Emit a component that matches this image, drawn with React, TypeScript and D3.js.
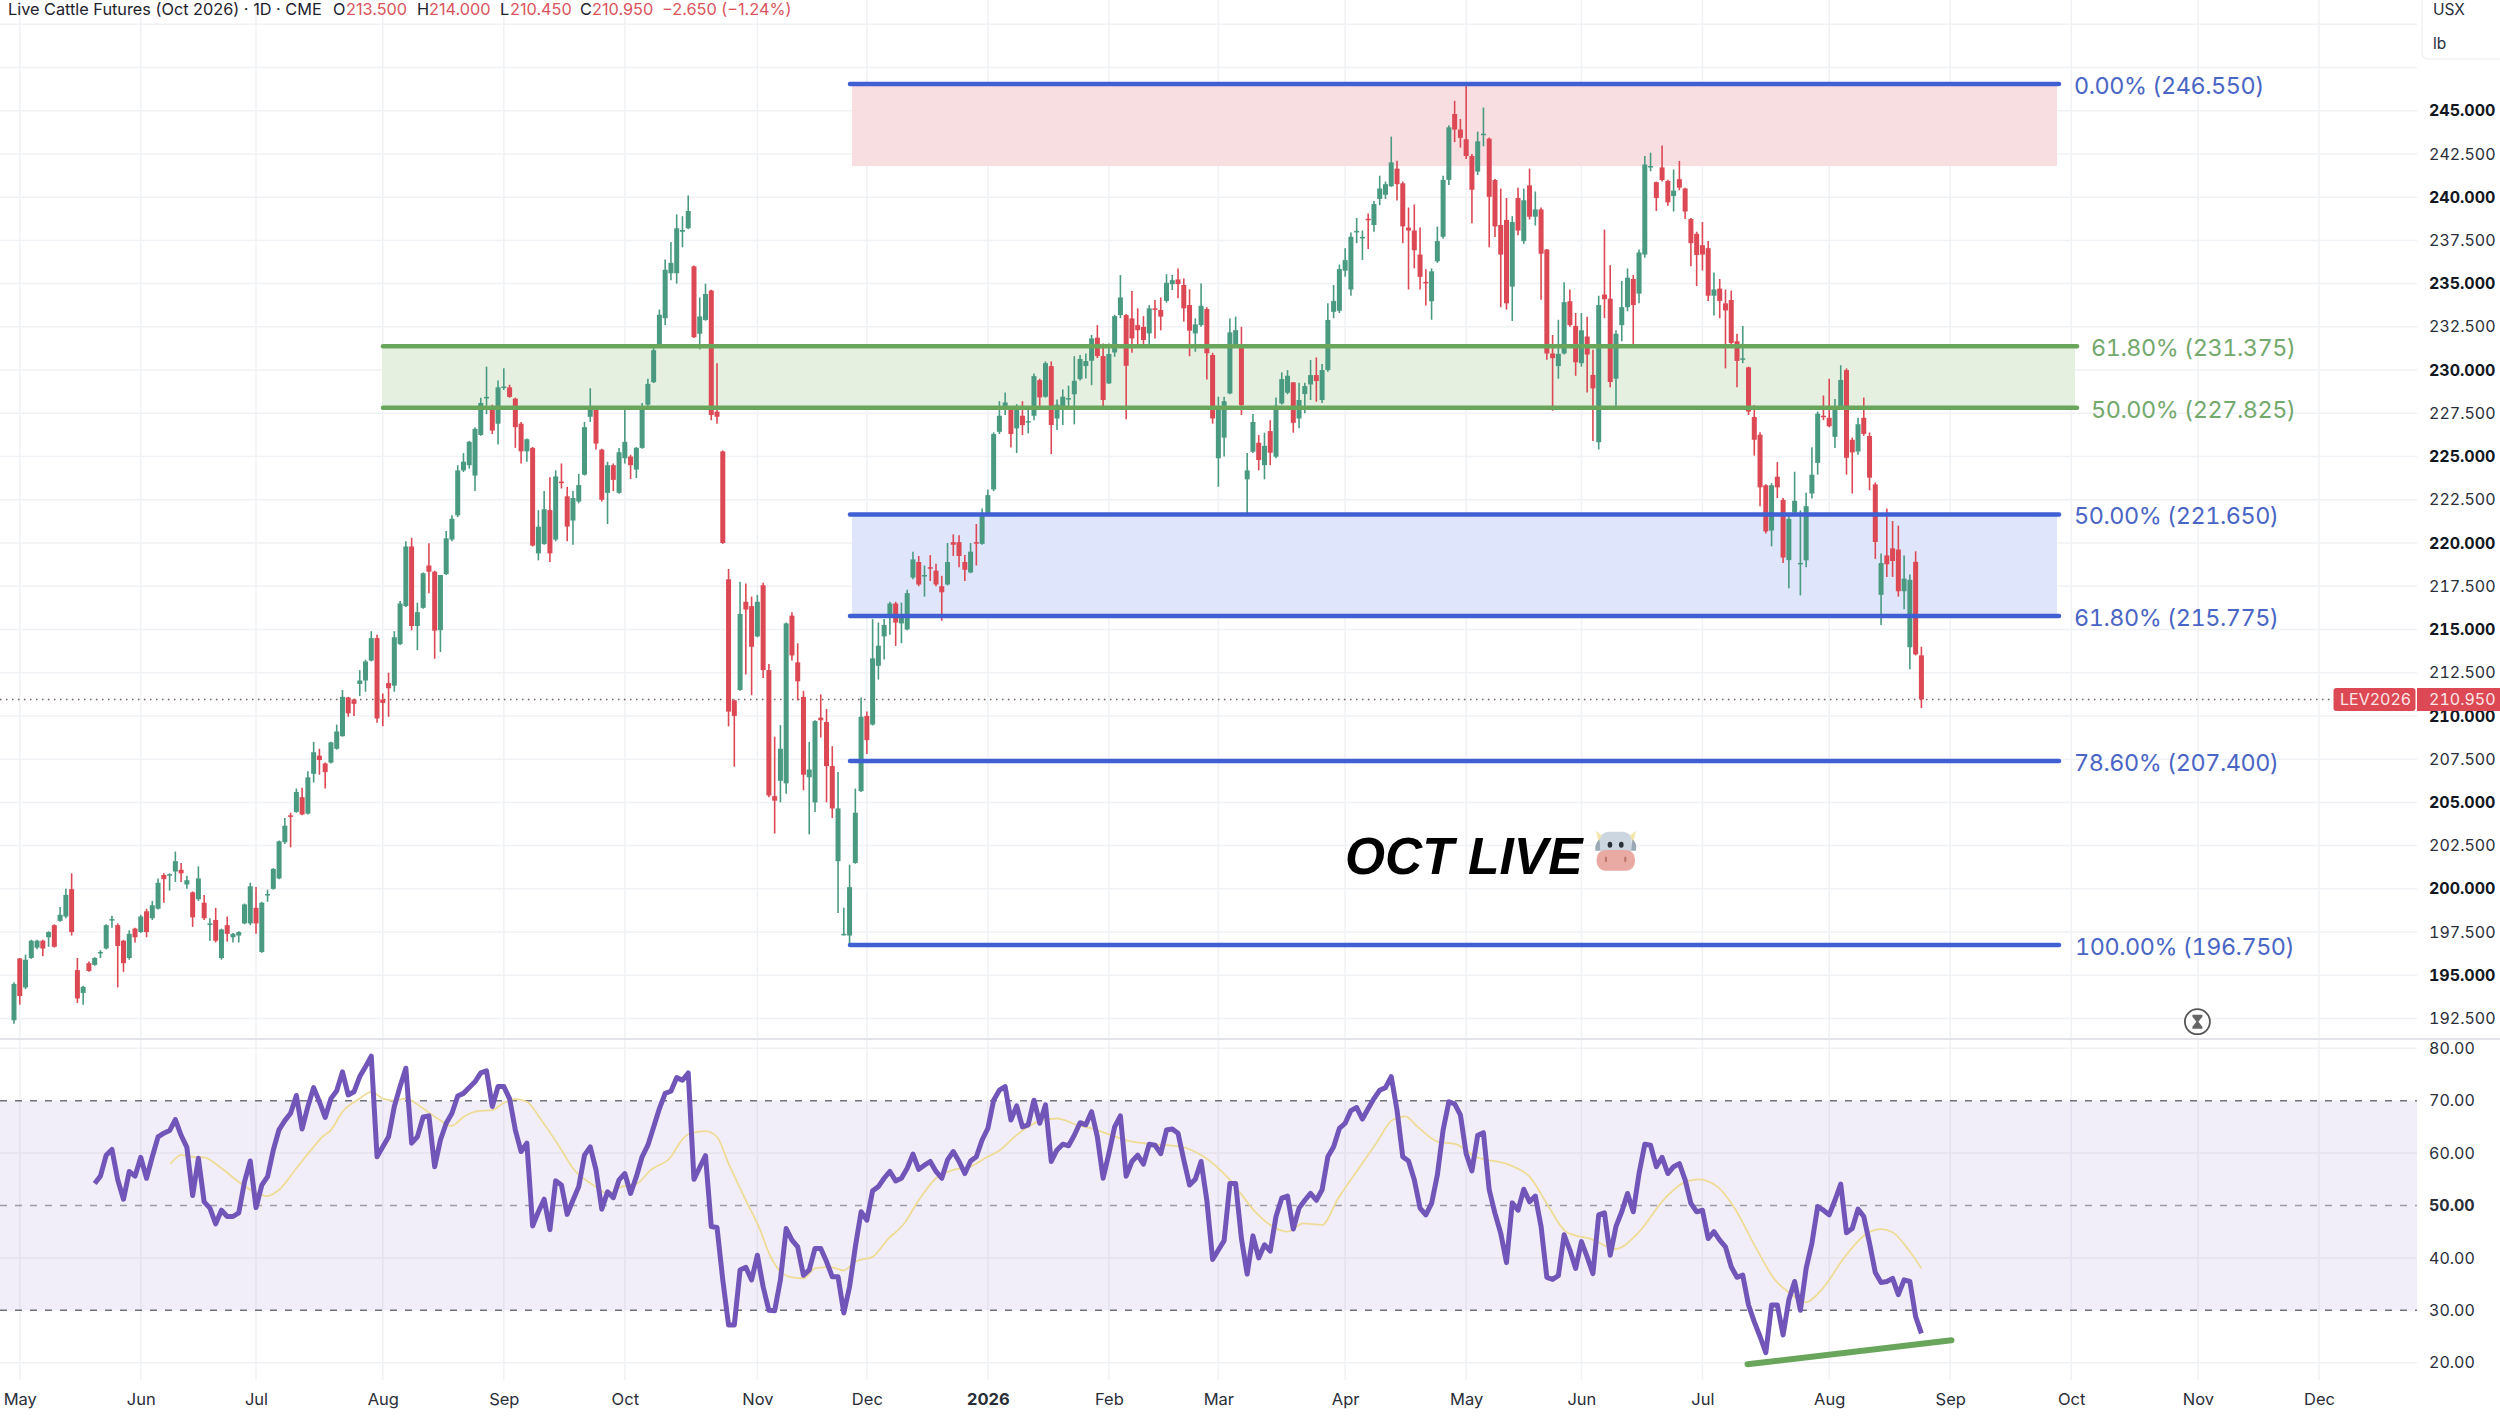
import { useEffect, useRef } from "react";
import * as d3 from "d3";

const opens = [
  192.4,195.97,194.3,196,196.6,197,197.2,197.9,198.15,198.4,
  199.98,195.3,193.98,195.7,195.6,196.3,196.55,198.2,197.9,197,
  196,197.7,197.5,198.7,198.3,198.85,200.8,200.8,201,201.1,
  200.25,199.8,199.4,199.2,197.95,198.2,196,197.9,197.2,197.3,
  198,198,198.9,196.35,199.65,200,200.6,202.7,204.25,204.45,
  205.3,204.35,206.65,207.7,207.25,207.3,208.1,208.83,211.07,210.95,
  211.85,212.05,213.2,214.5,210.95,211.9,211.75,214.15,216.35,219.8,
  215.2,216.25,218.7,218.34,214.96,218.2,220.2,221.6,224.2,224.5,
  223.9,226.25,228.4,227.9,226.9,229,229,228.35,226.9,225.3,
  225.5,219.4,219.94,221.9,220.2,223.55,222.7,221.3,222.4,223.95,
  227.3,227.85,225.4,222.9,224.5,222.9,224.9,225,224.25,225.5,
  228,229.3,231.45,233,235.6,235.6,238,238.2,236,232.1,
  232.9,234.6,227.6,225.3,217.9,210.9,211.5,216.6,216.35,214.6,
  217.56,212.65,205.36,206.25,206.1,215.8,213.1,211.1,206.45,205,
  209.9,209.65,207.1,201.6,197.35,197.3,201.5,205.65,210,209.5,
  212.9,214.6,215.7,216.5,215.35,215,218,218.9,218.1,218.6,
  218.4,217.5,217.6,220.05,220.05,218.9,218.3,220.05,219.95,221.7,
  223.1,226.43,227.88,227.73,226.63,227.36,227,227.36,229.42,228.46,
  230.23,227.2,227.7,228.33,228.6,229.48,230.23,230.54,231.87,230.81,
  229.23,231.02,233.18,233.18,232.99,232.6,232.5,232.12,233.57,233.47,
  234,234.97,235.24,234.92,233.76,232.12,232.6,233.53,230.87,224.9,
  226.09,228.65,231.35,231.48,223.68,225.28,225.8,224.5,226.47,224.99,
  228.07,228.69,229.29,227.2,228.61,229.17,229.71,228.27,230,233.37,
  233.43,235.75,234.66,238,237.65,238.75,238.39,239.9,240.14,240.63,
  241.65,240.8,238.24,238.07,236.68,235.1,233.98,236.29,237.71,241,
  244.81,243.91,243.35,242.38,241.48,243.62,243.38,240.99,238.39,238.68,
  234.83,239.95,237.46,240.68,238.87,239.29,236.97,230.96,230.23,230.96,
  233.98,232.55,230.4,231.94,229.72,225.83,234.37,234.13,229.5,232.6,
  233.64,235.27,234.42,236.68,241.75,240.87,241.72,240.94,240.07,241.04,
  240.5,238.73,237.88,237.22,237.05,234.3,234.71,233.86,234.05,231.67,
  230.63,230.16,227.29,226.26,223.34,220.72,223.83,222.49,219.01,221.76,
  218.8,219,222.86,224.63,227.36,227.24,226.14,227.85,230,225.97,
  225.29,227.24,226.19,223.39,217,219.28,219.69,219.62,217.21,213.97,
  218.91,213.5,
];

const highs = [
  194.6,196,196.2,197.05,197.05,197.05,197.55,197.95,198.95,200,
  200.9,196,194.4,195.8,196.05,196.45,197.95,198.45,198,197.05,
  197.6,197.75,198.5,198.85,199.3,200.6,200.9,200.9,202.15,201.5,
  200.75,199.85,201.3,199.65,198.3,198.9,197.7,198.4,197.45,197.55,
  199.15,200.35,200.1,199.25,199.95,201.2,202.8,204.1,204.4,205.8,
  205.85,206.8,208.5,208.1,207.3,208.5,209.5,211.5,211.1,211,
  212.65,213.25,214.9,214.7,211.3,212.5,214.9,216.65,220.1,220.3,
  216.55,218.3,219.98,218.4,218.15,220.7,221.6,224.5,225.2,225.9,
  226.7,228.4,230.2,228,229.4,230.1,229.15,228.4,227,226.05,
  225.55,221.9,223,223.8,224.2,224.6,223.25,223,224,227,
  228.95,227.9,225.45,224.7,224.6,225.5,227.9,225.1,225.55,228.1,
  229.5,231.3,233.5,236.4,237.4,239,238.9,240.1,236.05,234.2,
  235,234.65,230.4,225.35,218.5,210.95,217.76,217.66,216.9,217,
  217.7,213,208.8,209.47,215.4,216,214.2,211.45,208.5,209.75,
  211.25,210.4,208.25,206.75,198.9,201.4,205.8,211.07,210.25,215.6,
  215.4,215.6,216.6,216.6,216.55,217.3,219.5,219.25,218.7,219.3,
  218.8,218.1,220,220.5,220.45,219.3,220,221.1,222,223.1,
  226.4,228.2,228.7,227.75,228.03,228.2,227.88,229.8,229.5,230.5,
  230.5,228.3,228.88,229.1,230.8,230.87,230.96,232.03,232.6,231.54,
  231.54,233.2,235.5,233.25,234.57,233.57,233.12,233.76,234.05,234.2,
  235.55,235.5,235.88,235.3,234.67,232.99,235,233.63,231,228.46,
  228.46,232.99,233.09,232.5,225.2,227.46,226.24,226.38,227.1,228.42,
  229.87,230,229.3,229.27,229.27,230.58,230.73,230.35,233.86,234.92,
  236.1,237.04,237.95,238.8,238.07,239.05,239.78,241.24,240.9,243.5,
  242.1,240.9,239.4,239.58,238.24,235.83,235.88,238.3,241.24,244.16,
  245.57,244.52,246.55,242.5,243.79,245.18,243.45,241.05,240.5,239.95,
  238.9,240.55,240.5,241.65,240.33,239.4,237,232.03,232.91,235.08,
  234.66,233.3,233.3,233.08,231.18,234.3,238.12,236.07,232.3,235.15,
  235.88,235.5,236.97,242.38,242.57,240.9,242.99,241,241.6,242.09,
  240.55,238.8,238,238.56,237.46,235.64,235.27,234.66,234.6,232.1,
  232.55,230.2,227.97,226.4,223.4,223.46,224.68,222.6,221.6,224.12,
  221.88,222.9,225.54,227.6,228.53,229.5,228.33,230.28,230.1,226.1,
  227.24,228.41,226.39,223.5,219.4,222,221.27,221,219.28,218.18,
  219.52,214,
];

const lows = [
  192.2,193.3,194.2,195.95,196.5,196.1,196.65,196.6,198.1,198.3,
  197.3,193.4,193.3,195.2,195.55,196,196.5,197.75,194.3,195.2,
  195.9,196.9,197.45,197.2,198.2,198.8,199.2,199.9,200.4,200.4,
  200,197.8,199.3,198.2,197,196.9,195.9,196.95,196.9,196.9,
  197.95,197.9,197.4,196.3,199.25,199.95,200.55,202.6,202.4,204.4,
  204.25,204.3,206.15,206.6,205.8,207.25,208.05,208.8,209.95,210,
  211.15,211.4,213.15,209.6,209.4,209.95,211.4,214.1,216.3,214.95,
  213.8,216.2,217.1,213.3,213.7,218.15,220.1,221.5,224.1,224.3,
  223,226.2,227.45,226.3,225.7,228.85,228.4,225.5,224.6,224.7,
  219.8,219,219.9,218.9,220.1,223.15,220.1,219.9,222.3,223.9,
  227,225.4,222.4,221.1,223,222.85,224.6,223.7,223.75,225.45,
  227.9,229.25,231.4,232.6,235.2,235,237.1,238.15,231.85,231.2,
  232.85,227.1,226.9,219.95,209.4,207.06,211.45,212.4,211.2,214.55,
  212.2,205.3,203.2,205,205.5,213.2,210.9,205.7,203.15,204.45,
  208.75,205,204.1,198.6,197.3,196.75,201.45,205.6,207.8,209.45,
  212.1,213.27,214.7,214.05,214.2,214.95,217.9,217.5,216.9,217.8,
  217.5,215.5,217.55,219.25,218.6,217.8,218.25,218.7,219.9,221.65,
  223,226.3,227.4,225.53,225.2,226.24,226.34,227.1,227.7,228.4,
  225.14,226.53,226.82,227.88,226.86,229.4,229.52,229.13,230.7,227.88,
  229.2,230.77,233,227.15,231,231.35,231.35,231.5,231.83,232.3,
  233.9,234.63,234.15,232.8,230.8,231.06,232.5,229.46,226.9,223.25,
  225,228.6,231.3,227.4,221.7,225.2,224.2,223.68,224.5,224.9,
  228,228.6,226.38,226.63,227.5,228.27,228.17,228.1,229.9,233,
  233.3,235.4,234.3,237.34,236.37,237,238,239.53,239.9,240.6,
  239.8,237.34,234.66,235.88,234.66,233.74,232.91,236.2,237.6,240.7,
  243.18,242.87,242.2,238.49,241.28,242.94,237.1,237.7,233.64,233.5,
  232.84,237.8,237.3,238.7,238.36,234.06,230.6,227.65,229.5,230.9,
  232.5,229.67,230.2,228.7,225.9,225.41,233,229,227.85,231.67,
  233.4,231.5,233.86,236.5,241.5,239.2,240.9,239.5,239.17,240.4,
  238.73,236,234.86,235.76,234,233.15,233,230.1,231.5,229,
  230.4,227.4,225.05,222.13,220.55,219.81,222.6,218.84,217.38,221.7,
  216.97,218.6,222.57,223.95,227.1,226.7,225.5,227.8,223.95,222.86,
  225.1,226.2,223.05,219.08,215.26,218.04,218.04,216.9,216.17,212.7,
  213.5,210.45,
];

const closes = [
  194.5,193.8,195.9,197,197,196.55,197.5,196.65,198.5,199.65,
  197.5,193.66,194.33,195.25,196,196.35,197.9,198.25,196.7,195.7,
  197.4,197.2,198.4,197.5,199.05,200.35,200.56,200.85,201.6,200.9,
  200.5,198.35,200.6,198.3,198,197,197.65,197.4,197.4,197.5,
  199.1,200.15,198,199.2,199.7,201.15,202.75,203.65,204.2,205.6,
  204.3,206.45,207.9,207.45,206.75,208.47,209.1,211.1,210.15,210.7,
  212.05,213.15,214.5,209.85,210.75,211.6,214.55,216.5,219.8,215.2,
  216,218.25,218.34,214.93,218.15,220.27,221.4,224.2,224.7,225.85,
  226.6,228.1,228.45,226.5,229,229.05,228.45,226.7,225.3,226,
  219.85,220.94,221.95,219.4,223.85,223.5,220.95,222.6,223.35,226.7,
  227.8,225.75,222.5,224.5,223.65,225.25,225.85,224.5,225.5,227.9,
  229.2,231.15,233.2,235.8,236.2,238.2,238.1,239.2,231.9,233.1,
  234.4,227.4,227.3,220,210.25,210,215.9,216.15,214,216.6,
  212.65,205.4,205.1,208.1,215.35,213.5,212,206.6,206.9,209.7,
  209.75,207.1,204.65,204.65,197.4,200.1,204.4,209.95,208.6,213.33,
  214.06,215.26,216.5,215.4,215.7,217.1,219.05,217.6,218.15,218.55,
  217.6,217.15,218.9,219.9,219.25,218.45,219.5,220,221.7,222.77,
  226.3,227.36,228.13,226.3,227.88,226.82,227.05,229.65,228.42,230.4,
  226.82,228,228.46,228.38,229.38,230.64,230.52,231.83,230.81,228.27,
  230.93,233.12,234.2,230.25,231.83,232.31,231.74,233.57,233.55,233.09,
  235.05,235.2,234.97,233.57,232.28,232.64,233.72,230.97,227.2,227.78,
  228.2,232.18,232.31,227.98,224.2,227,224.8,225.62,225.22,227.94,
  229.48,229.67,226.95,228.27,229.08,229.71,229.37,230,232.9,234,
  235.84,236.36,237.71,238.05,237.7,238.7,239.6,240.5,240.75,242.01,
  240.75,238.31,238.07,236.93,235.39,235.05,235.71,237.46,241,244.04,
  243.91,243.43,242.38,240.43,243.23,243.67,240.02,238.31,236.68,233.86,
  238.56,238.07,239.82,238.87,239.29,236.73,230.96,230.69,230.94,233.93,
  232.6,230.45,232.3,230.9,228.94,233.76,234.1,229.31,232.1,233.64,
  235.34,233.76,236.8,241.89,241.8,239.95,240.99,239.7,240.38,240.55,
  239.17,237.34,236.66,236.68,234.3,234.66,234,233.45,231.57,230.53,
  230.68,227.6,225.97,223.22,220.67,223.34,223.22,219.16,221.4,222.44,
  218.85,222.13,223.95,227.48,227.3,226.75,227.85,229.43,224.93,225.24,
  226.87,226.31,223.78,220.06,218.84,218.77,218.96,217.21,217.94,217.87,
  213.56,210.95,
];

// RSI starts at bar 14
const rsiStart = 14;
const rsi = [
  54.2,55.6,59.6,60.7,54.9,51.2,
  56.5,55.6,59.2,55.2,59.3,63.1,63.8,64.3,66.4,63.4,
  61.1,51.9,59,50.7,49.5,46.5,49.1,47.9,47.9,48.6,
  54.5,58.5,49.6,53.9,55.5,60.6,64.5,66.2,67.6,71,
  64.6,68.9,72.5,69.8,66.8,70.4,71.9,75.5,71.1,71.7,
  74.6,76.5,78.5,59.3,61.2,63.1,68.9,72.7,76.2,61.9,
  63.1,66.9,67.1,57.4,62.5,65.7,67.6,70.9,71.4,72.5,
  73.6,75.3,75.7,68.9,72.7,72.7,70.4,64.4,60.3,61.9,
  46.1,48.8,51.2,45.4,54.7,53.9,48.3,51,53.6,59.6,
  61.2,56.8,49.3,52.6,51.5,54.9,56.1,52.3,55.5,59.3,
  61.5,65,68.5,71.4,71.8,74.4,73.9,75.3,55,57.3,
  59.5,46,45.8,35.8,27.2,27.2,37.7,38.2,35.8,40.5,
  34.5,30,29.9,35.8,45.6,43.4,42.1,36.7,37.7,41.8,
  41.8,39.3,36.4,36.4,29.5,34.5,42.1,48.8,47.2,52.8,
  53.6,55.2,56.5,54.7,55.2,57.1,59.8,56.9,57.7,58.4,
  56.5,55.2,58.7,60.3,58.4,56.1,58.5,59.3,62.5,64.7,
  70.1,72,72.7,66.3,69,65,65.4,70.1,65.7,69.2,
  58.4,60.6,61.7,61.4,63.4,65.8,65.4,67.9,63.1,55.2,
  59.9,65,67.1,55.6,58.4,59.6,57.9,61.7,61.5,59.9,
  64.4,64.6,63.8,58.7,53.9,55,58.4,51,39.7,41.5,
  43.3,54.2,54.2,43.7,36.9,44.2,40,42.5,41.3,47.9,
  51.4,51.8,45.5,49.5,51,52.3,51,53,59.3,61.2,
  64.7,65.7,68.1,68.7,66.5,68.5,70.4,72,72.5,74.6,
  68.2,59.3,58.5,54.9,49.5,48.2,50.4,55.8,64.4,69.8,
  69.4,67.3,59.9,56.6,63.4,63.9,53,48.5,44.7,39.1,
  50.5,49.1,53.1,50.7,51.8,46,36.3,35.9,36.6,44.4,
  41.5,38,43.1,40.2,37,48.2,48.6,40.5,46,48.8,
  52.3,48.8,56.1,61.7,61.5,57.4,59.2,56.1,57.4,58,
  54.9,50.4,48.8,49.1,43.7,45,43.4,42.1,38.3,36.3,
  36.7,31,27.8,25,21.9,31,31,25.3,32,35.5,
  30,38,42.8,49.8,49.1,48.2,51,54.1,44.8,45.6,
  49.3,47.9,42.8,37.2,35.3,35.5,36.1,33,35.8,35.5,
  28.8,25.6,
];

// yellow RSI average, read at its turning points
const maBars = [
  27.2,29,31,33,36,39,41,44,46,49,52,53.5,55,57,60,62,64,66,68,71,73.5,76,78,80.5,83,85,87,89,91.5,95,97,100.5,103,105.5,108,110.5,114,115.5,117,120,122,124,127,129.5,131,133,135,137,139,141.5,144,146,149,151.5,154.5,157,160,163,166,168.5,171,
  174.4,177.7,181,184.4,187,190.5,193.2,197.7,202.6,206.5,211,215.4,218.7,221,223.7,227,229.8,233,236.4,239.2,241.4,243.6,247,250.2,253.5,259.6,263,266.3,269,271.2,273.5,277.9,281.8,286.2,290,292.3,295.6,298.4,302.2,305.6,308.3,310.8,313.9,317.7,321.6,324,326,328.8,331,
];
const maValues = [
  58,59.6,59.3,59.2,57.1,54.5,53,51.8,53,57.1,61.2,63.1,64.4,67.9,70.4,71.7,70.4,70,70.4,68.5,66.6,65.2,66.9,68,68.2,69.6,70.3,69.8,66.3,60.6,57.1,53.9,52.3,53.6,54.1,56.8,59.3,61.9,63.6,64.2,63.1,58,51,45.3,40.9,37.4,36.3,36.1,38,38.3,37.6,39.3,40.2,43.4,46.6,51,55.2,56.8,57.4,59,60.5,
  63.8,66,66.6,65.4,64.7,63.4,62.4,61.7,61.2,59.3,54.9,48.8,45.8,45,46.6,46.3,51.4,56.5,61.9,66.3,67,65,62.2,61.7,59.4,57.7,55.5,49.8,45.3,44.2,43.7,41.7,44.7,51,54.5,55,53.6,49.8,42.1,35.8,33.2,31.5,34.2,40.2,44.7,45.5,44.9,41.5,38,
];

// first bar of each month on the time axis
const monthBars = [1, 22, 42, 64, 85, 106, 129, 148, 169, 190, 209, 231, 252, 272, 293, 315, 336, 357, 379, 400];
const monthLabels = ["May", "Jun", "Jul", "Aug", "Sep", "Oct", "Nov", "Dec", "2026", "Feb", "Mar", "Apr", "May", "Jun", "Jul", "Aug", "Sep", "Oct", "Nov", "Dec"];

const priceTicks = [192.5, 195, 197.5, 200, 202.5, 205, 207.5, 210, 212.5, 215, 217.5, 220, 222.5, 225, 227.5, 230, 232.5, 235, 237.5, 240, 242.5, 245];
const priceGridExtra = [247.5, 250];
const rsiTicks = [20, 30, 40, 50, 60, 70, 80];

const blueLevels = [246.55, 221.65, 215.775, 207.4, 196.75];
const blueLabels = ["0.00% (246.550)", "50.00% (221.650)", "61.80% (215.775)", "78.60% (207.400)", "100.00% (196.750)"];
const greenLevels = [231.375, 227.825];
const greenLabels = ["61.80% (231.375)", "50.00% (227.825)"];
const lastPrice = 210.95;

const headerParts = [
  { t: "Live Cattle Futures (Oct 2026) · 1D · CME", at: 8, red: false },
  { t: "O", at: 333, red: false },
  { t: "213.500", at: 346, red: true },
  { t: "H", at: 417, red: false },
  { t: "214.000", at: 429, red: true },
  { t: "L", at: 500, red: false },
  { t: "210.450", at: 510, red: true },
  { t: "C", at: 580, red: false },
  { t: "210.950", at: 592, red: true },
  { t: "−2.650 (−1.24%)", at: 662, red: true },
];

const FONT = "Inter, 'Liberation Sans', sans-serif";
const UP = "#4a9a82";
const DOWN = "#dc4853";
const BLUE = "#3f5fd3";
const GREEN = "#69a65c";
const GRID = "#f0f2f5";

const pad = (n: number) => n.toFixed(3);

export default function App() {
  const svgRef = useRef<SVGSVGElement | null>(null);

  useEffect(() => {
    const svg = d3.select(svgRef.current);
    if (!svgRef.current) return;
    svg.selectAll("*").remove();

    const x = d3.scaleLinear().domain([0, 331]).range([14, 1921.4]);
    const y = d3.scaleLinear().domain([195, 245]).range([975.3, 110.7]);
    const r = d3.scaleLinear().domain([20, 80]).range([1362.7, 1048.3]);
    const plotRight = 2417;

    // grid
    const grid = svg.append("g").attr("stroke", GRID).attr("stroke-width", 1.5);
    grid
      .selectAll("line.v")
      .data(monthBars)
      .enter()
      .append("line")
      .attr("x1", (d) => x(d))
      .attr("x2", (d) => x(d))
      .attr("y1", 0)
      .attr("y2", 1380);
    grid
      .selectAll("line.h")
      .data([...priceTicks, ...priceGridExtra])
      .enter()
      .append("line")
      .attr("x1", 0)
      .attr("x2", plotRight)
      .attr("y1", (d) => y(d))
      .attr("y2", (d) => y(d));
    grid
      .selectAll("line.r")
      .data([20, 40, 60, 80])
      .enter()
      .append("line")
      .attr("x1", 0)
      .attr("x2", plotRight)
      .attr("y1", (d) => r(d))
      .attr("y2", (d) => r(d));

    svg
      .append("line")
      .attr("x1", 0)
      .attr("x2", 2500)
      .attr("y1", 1039)
      .attr("y2", 1039)
      .attr("stroke", "#e2e4e9")
      .attr("stroke-width", 2);

    // zones behind the candles
    const zones = [
      { x1: 852, x2: 2057, top: blueLevels[0], bottom: 241.8, fill: "#f8dde1" },
      { x1: 382, x2: 2075, top: greenLevels[0], bottom: greenLevels[1], fill: "#e5f0e0" },
      { x1: 852, x2: 2057, top: blueLevels[1], bottom: blueLevels[2], fill: "#dfe5fb" },
    ];
    svg
      .selectAll("rect.zone")
      .data(zones)
      .enter()
      .append("rect")
      .attr("x", (d) => d.x1)
      .attr("width", (d) => d.x2 - d.x1)
      .attr("y", (d) => y(d.top))
      .attr("height", (d) => y(d.bottom) - y(d.top))
      .attr("fill", (d) => d.fill);

    // last price line
    svg
      .append("line")
      .attr("x1", 0)
      .attr("x2", 2334)
      .attr("y1", y(lastPrice))
      .attr("y2", y(lastPrice))
      .attr("stroke", "#6f6060")
      .attr("stroke-width", 1.5)
      .attr("stroke-dasharray", "1.5 4.5");

    // candles
    const bars = closes.map((close, i) => ({ i, open: opens[i], high: highs[i], low: lows[i], close }));
    const bodyWidth = 5;
    const candles = svg.append("g");
    candles
      .selectAll("line")
      .data(bars)
      .enter()
      .append("line")
      .attr("x1", (d) => x(d.i))
      .attr("x2", (d) => x(d.i))
      .attr("y1", (d) => y(d.high))
      .attr("y2", (d) => y(d.low))
      .attr("stroke", (d) => (d.close >= d.open ? UP : DOWN))
      .attr("stroke-width", 1.6);
    candles
      .selectAll("rect")
      .data(bars)
      .enter()
      .append("rect")
      .attr("x", (d) => x(d.i) - bodyWidth / 2)
      .attr("width", bodyWidth)
      .attr("y", (d) => y(Math.max(d.open, d.close)))
      .attr("height", (d) => Math.max(1.5, Math.abs(y(d.open) - y(d.close))))
      .attr("fill", (d) => (d.close >= d.open ? UP : DOWN));

    // fib levels
    const levels = [
      ...blueLevels.map((value, i) => ({ value, label: blueLabels[i], color: BLUE, text: "#4a66c4", x1: 850, x2: 2059, tx: i === 4 ? 2075 : 2074 })),
      ...greenLevels.map((value, i) => ({ value, label: greenLabels[i], color: GREEN, text: "#74a96d", x1: 383, x2: 2077, tx: 2091 })),
    ];
    svg
      .selectAll("line.level")
      .data(levels)
      .enter()
      .append("line")
      .attr("x1", (d) => d.x1)
      .attr("x2", (d) => d.x2)
      .attr("y1", (d) => y(d.value))
      .attr("y2", (d) => y(d.value))
      .attr("stroke", (d) => d.color)
      .attr("stroke-width", 4.5)
      .attr("stroke-linecap", "round");
    svg
      .selectAll("text.level")
      .data(levels)
      .enter()
      .append("text")
      .attr("x", (d) => d.tx)
      .attr("y", (d) => y(d.value))
      .attr("dy", "0.42em")
      .attr("fill", (d) => d.text)
      .style("font-family", FONT)
      .style("font-size", "23.4px")
      .style("letter-spacing", "-0.45px")
      .style("font-variant-numeric", "tabular-nums")
      .text((d) => d.label);

    // watermark title and cow face
    svg
      .append("text")
      .attr("x", 1345)
      .attr("y", 874)
      .attr("fill", "#000")
      .style("font-family", "'Liberation Sans', sans-serif")
      .style("font-size", "51.5px")
      .style("font-style", "italic")
      .style("font-weight", "700")
      .text("OCT LIVE");
    const cow = svg.append("g").attr("transform", "translate(1250,780) scale(0.3333)");
    cow.append("path").attr("d", "M1038,152 L1062,172 L1046,186 Z M1158,152 L1134,172 L1150,186 Z").attr("fill", "#f2e6a8");
    cow.append("path").attr("d", "M1048,178 Q1034,190 1036,212 L1056,212 Z M1148,178 Q1162,190 1158,212 L1140,212 Z").attr("fill", "#9aa9b6");
    cow.append("rect").attr("x", 1050).attr("y", 155).attr("width", 95).attr("height", 75).attr("rx", 26).attr("fill", "#ccd6e0");
    cow.append("rect").attr("x", 1040).attr("y", 210).attr("width", 115).attr("height", 62).attr("rx", 26).attr("fill", "#e9aaa3");
    cow.append("ellipse").attr("cx", 1080).attr("cy", 194).attr("rx", 7).attr("ry", 9).attr("fill", "#2b2f36");
    cow.append("ellipse").attr("cx", 1114).attr("cy", 194).attr("rx", 7).attr("ry", 9).attr("fill", "#2b2f36");
    cow.append("ellipse").attr("cx", 1068).attr("cy", 238).attr("rx", 3.5).attr("ry", 9).attr("fill", "#c0756b");
    cow.append("ellipse").attr("cx", 1126).attr("cy", 238).attr("rx", 3.5).attr("ry", 9).attr("fill", "#c0756b");

    // hourglass marker
    const glass = svg.append("g").attr("transform", "translate(2197.4,1021.7)");
    glass.append("circle").attr("r", 12.5).attr("fill", "#fff").attr("stroke", "#555").attr("stroke-width", 1.8);
    glass.append("path").attr("d", "M-5,-7 H5 V-5 L1,0 L5,5 V7 H-5 V5 L-1,0 L-5,-5 Z").attr("fill", "#666");

    // RSI panel
    svg
      .append("rect")
      .attr("x", 0)
      .attr("width", plotRight)
      .attr("y", r(70))
      .attr("height", r(30) - r(70))
      .attr("fill", "#7e57c2")
      .attr("fill-opacity", 0.1);
    svg
      .selectAll("line.band")
      .data([70, 50, 30])
      .enter()
      .append("line")
      .attr("x1", 0)
      .attr("x2", plotRight)
      .attr("y1", (d) => r(d))
      .attr("y2", (d) => r(d))
      .attr("stroke", (d) => (d === 50 ? "#9a9ca6" : "#6f717b"))
      .attr("stroke-width", 1.5)
      .attr("stroke-dasharray", "7 8");

    const maLine = d3
      .line<number>()
      .x((_, i) => x(maBars[i]))
      .y((d) => r(d))
      .curve(d3.curveMonotoneX);
    svg
      .append("path")
      .attr("d", maLine(maValues))
      .attr("fill", "none")
      .attr("stroke", "#eedb96")
      .attr("stroke-width", 1.8);

    const rsiLine = d3
      .line<number>()
      .x((_, i) => x(rsiStart + i))
      .y((d) => r(d));
    svg
      .append("path")
      .attr("d", rsiLine(rsi))
      .attr("fill", "none")
      .attr("stroke", "#7155b8")
      .attr("stroke-width", 5)
      .attr("stroke-linejoin", "round");

    // trend line under the RSI lows
    svg
      .append("line")
      .attr("x1", 1747.5)
      .attr("y1", r(19.7))
      .attr("x2", 1951.5)
      .attr("y2", r(24.3))
      .attr("stroke", GREEN)
      .attr("stroke-width", 6)
      .attr("stroke-linecap", "round");

    // price axis
    const priceAxis = d3
      .axisRight(y)
      .tickValues(priceTicks)
      .tickSize(0)
      .tickPadding(0)
      .tickFormat((d) => pad(Number(d)));
    svg
      .append("g")
      .attr("transform", "translate(2429,0)")
      .call(priceAxis)
      .call((axis) => axis.select(".domain").remove())
      .call((axis) =>
        axis
          .selectAll("text")
          .attr("fill", (d) => (Number(d) % 5 === 0 ? "#131722" : "#2a2e39"))
          .style("font-family", FONT)
          .style("font-size", "16px")
          .style("font-variant-numeric", "tabular-nums")
          .style("font-weight", (d) => (Number(d) % 5 === 0 ? "700" : "400")),
      );

    // RSI axis
    const rsiAxis = d3
      .axisRight(r)
      .tickValues(rsiTicks)
      .tickSize(0)
      .tickPadding(0)
      .tickFormat((d) => Number(d).toFixed(2));
    svg
      .append("g")
      .attr("transform", "translate(2429,0)")
      .call(rsiAxis)
      .call((axis) => axis.select(".domain").remove())
      .call((axis) =>
        axis
          .selectAll("text")
          .attr("fill", "#2a2e39")
          .style("font-family", FONT)
          .style("font-size", "16px")
          .style("font-variant-numeric", "tabular-nums")
          .style("font-weight", (d) => (Number(d) === 50 ? "700" : "400")),
      );

    // time axis
    const timeAxis = d3
      .axisBottom(x)
      .tickValues(monthBars)
      .tickSize(0)
      .tickPadding(0)
      .tickFormat((_, i) => monthLabels[i]);
    svg
      .append("g")
      .attr("transform", "translate(0,1393)")
      .call(timeAxis)
      .call((axis) => axis.select(".domain").remove())
      .call((axis) =>
        axis
          .selectAll("text")
          .attr("fill", "#2a2e39")
          .style("font-family", FONT)
          .style("font-size", "16.5px")
          .style("font-weight", (_, i) => (monthLabels[i] === "2026" ? "700" : "400")),
      );

    // last price tag
    const tag = svg.append("g").style("font-family", FONT).style("font-size", "16px").style("font-variant-numeric", "tabular-nums");
    tag.append("rect").attr("x", 2333.5).attr("y", 688).attr("width", 82).attr("height", 23).attr("rx", 3).attr("fill", DOWN);
    tag.append("rect").attr("x", 2417).attr("y", 688).attr("width", 83).attr("height", 23).attr("fill", DOWN);
    tag.append("text").attr("x", 2340).attr("y", y(lastPrice)).attr("dy", "0.36em").attr("fill", "#fbe6e7").text("LEV2026");
    tag.append("text").attr("x", 2429).attr("y", y(lastPrice)).attr("dy", "0.36em").attr("fill", "#fbe6e7").text(pad(lastPrice));

    // unit box
    const unit = svg.append("g").style("font-family", FONT).style("font-size", "15.5px").attr("fill", "#2a2e39");
    unit.append("rect").attr("x", 2422).attr("y", -6).attr("width", 90).attr("height", 65).attr("rx", 6).attr("fill", "#fff").attr("stroke", "#f0f2f5").attr("stroke-width", 1.5);
    unit.append("text").attr("x", 2433).attr("y", 9).attr("dy", "0.36em").text("USX");
    unit.append("text").attr("x", 2433).attr("y", 43).attr("dy", "0.36em").text("lb");

    // header line
    svg
      .selectAll("text.header")
      .data(headerParts)
      .enter()
      .append("text")
      .attr("x", (d) => d.at)
      .attr("y", 9)
      .attr("dy", "0.36em")
      .attr("fill", (d) => (d.red ? "#d9545d" : "#1e222d"))
      .style("font-family", FONT)
      .style("font-size", "16.3px")
      .text((d) => d.t);
  }, []);

  return (
    <svg ref={svgRef} width={2500} height={1416} viewBox="0 0 2500 1416" style={{ position: "absolute", top: 0, left: 0, background: "#fff" }} />
  );
}
